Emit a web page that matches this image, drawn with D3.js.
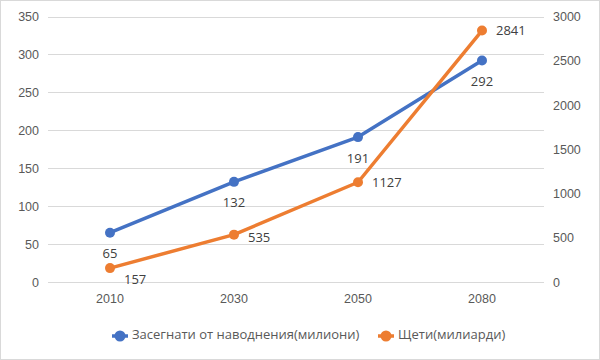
<!DOCTYPE html>
<html><head><meta charset="utf-8">
<script src="https://cdn.jsdelivr.net/npm/d3@7"></script>
<style>
body{margin:0;background:#fff;}
svg{display:block;font-family:"Open Sans","Noto Sans",sans-serif;}
</style></head><body>
<svg id="c" width="600" height="360"></svg>
<script>
const categories = ["2010","2030","2050","2080"];
const floodedMillions = [65,132,191,292];
const damagesBillions = [157,535,1127,2841];
const leftTicks = [0,50,100,150,200,250,300,350];
const rightTicks = [0,500,1000,1500,2000,2500,3000];
const seriesNames = ["Засегнати от наводнения(милиони)","Щети(милиарди)"];

const blue = "#4472C4", orange = "#ED7D31";
const svg = d3.select("#c");
const W = 600, H = 360;
const m = {l:48, r:56, t:16.5, b:78};
svg.append("rect").attr("x",0.5).attr("y",0.5).attr("width",W-1).attr("height",H-1)
  .attr("fill","#fff").attr("stroke","#d9d9d9");

const x = d3.scaleBand().domain(categories).range([m.l, W-m.r]);
const yL = d3.scaleLinear().domain([0,350]).range([H-m.b, m.t]);
const yR = d3.scaleLinear().domain([0,3000]).range([H-m.b, m.t]);

// gridlines
svg.append("g").selectAll("line").data(leftTicks).join("line")
  .attr("x1",m.l).attr("x2",W-m.r)
  .attr("y1",d=>Math.round(yL(d))+0.5).attr("y2",d=>Math.round(yL(d))+0.5)
  .attr("stroke","#d9d9d9").attr("stroke-width",1);

// left axis
const gL = svg.append("g").attr("transform",`translate(${m.l},0)`)
  .call(d3.axisLeft(yL).tickValues(leftTicks).tickFormat(d3.format("d")).tickSize(0).tickPadding(9));
gL.select(".domain").remove();
gL.selectAll("text").attr("fill","#595959").attr("font-size","12.5px");

// right axis
const gR = svg.append("g").attr("transform",`translate(${W-m.r},0)`)
  .call(d3.axisRight(yR).tickValues(rightTicks).tickFormat(d3.format("d")).tickSize(0).tickPadding(9));
gR.select(".domain").remove();
gR.selectAll("text").attr("fill","#595959").attr("font-size","12.5px");

// x axis
const gX = svg.append("g").attr("transform",`translate(0,${H-m.b})`)
  .call(d3.axisBottom(x).tickSize(0).tickPadding(12));
gX.select(".domain").remove();
gX.selectAll("text").attr("fill","#595959").attr("font-size","12.5px");

const cx = d => x(d) + x.bandwidth()/2;

function drawSeries(vals, y, color){
  const line = d3.line().x((d,i)=>cx(categories[i])).y(d=>y(d));
  svg.append("path").datum(vals).attr("d",line).attr("fill","none")
    .attr("stroke",color).attr("stroke-width",3.5).attr("stroke-linejoin","round").attr("stroke-linecap","round");
  svg.append("g").selectAll("circle").data(vals).join("circle")
    .attr("cx",(d,i)=>cx(categories[i])).attr("cy",d=>y(d)).attr("r",5).attr("fill",color);
}
drawSeries(floodedMillions, yL, blue);
drawSeries(damagesBillions, yR, orange);

// data labels
svg.append("g").selectAll("text").data(floodedMillions).join("text")
  .attr("x",(d,i)=>cx(categories[i])).attr("y",d=>yL(d)+22)
  .attr("text-anchor","middle").attr("dominant-baseline","middle")
  .attr("fill","#404040").attr("font-size","13px").text(d=>d);
const orangeDy = [12,4,1,1];
svg.append("g").selectAll("text").data(damagesBillions).join("text")
  .attr("x",(d,i)=>cx(categories[i])+14).attr("y",(d,i)=>yR(d)+orangeDy[i])
  .attr("text-anchor","start").attr("dominant-baseline","middle")
  .attr("fill","#404040").attr("font-size","13px").text(d=>d);

// legend
const legend = [{name:seriesNames[0],color:blue,x:120},{name:seriesNames[1],color:orange,x:386}];
const lg = svg.append("g");
legend.forEach(l=>{
  lg.append("line").attr("x1",l.x-8).attr("x2",l.x+8).attr("y1",336).attr("y2",336)
    .attr("stroke",l.color).attr("stroke-width",3.5);
  lg.append("circle").attr("cx",l.x).attr("cy",336).attr("r",5.5).attr("fill",l.color);
  lg.append("text").attr("x",l.x+12).attr("y",336).attr("dominant-baseline","middle")
    .attr("fill","#595959").attr("font-size","13px").text(l.name);
});
</script>
</body></html>
